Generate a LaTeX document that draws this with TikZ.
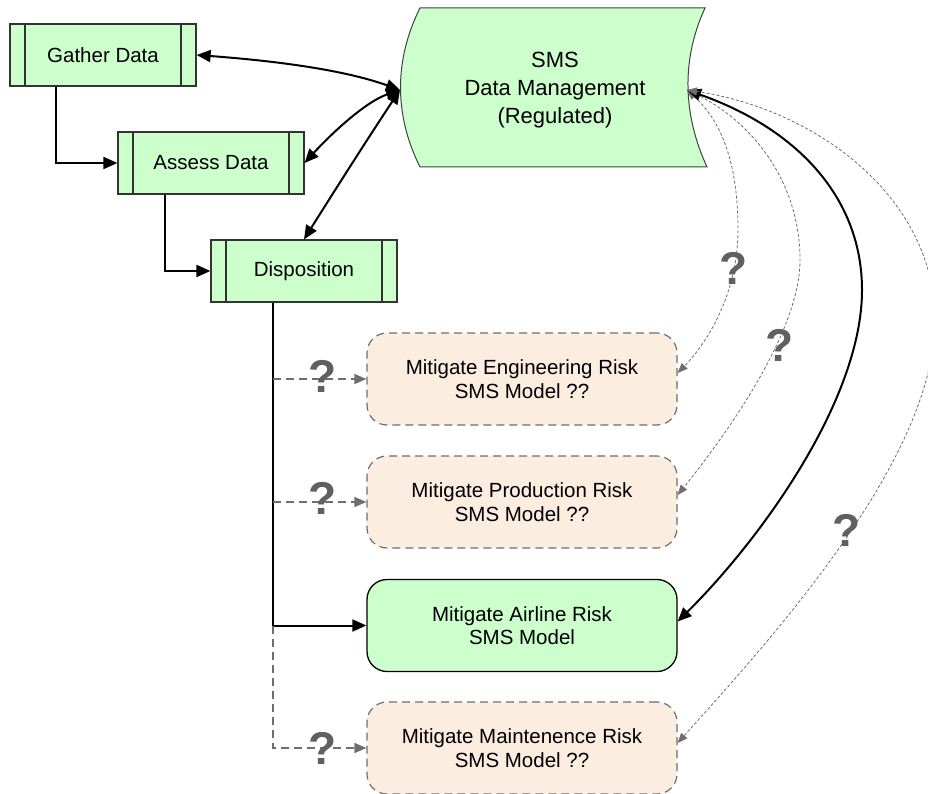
\documentclass[tikz,border=0pt]{standalone}
\usepackage{fontspec}
\setmainfont{Liberation Sans}
\usetikzlibrary{arrows.meta}
\definecolor{procgreen}{HTML}{CCFFCC}
\definecolor{peach}{HTML}{FCEDE1}
\definecolor{qgray}{HTML}{606060}
\definecolor{dgray}{HTML}{6E6E6E}

\tikzset{
  proc/.style={draw=black!80, line width=1.2pt, fill=procgreen,
    minimum width=186pt, minimum height=62pt, inner sep=0pt,
    font=\fontsize{20.5}{24}\selectfont,
    path picture={\draw[black!80, line width=1.2pt]
      ([xshift=15pt]path picture bounding box.north west) -- ([xshift=15pt]path picture bounding box.south west)
      ([xshift=-15pt]path picture bounding box.north east) -- ([xshift=-15pt]path picture bounding box.south east);}},
  model/.style={rounded corners=20pt, minimum width=310pt, minimum height=92pt,
    inner sep=0pt, align=center, font=\fontsize{20.5}{23.5}\selectfont},
  maybebox/.style={model, draw=dgray, fill=peach, line width=1.2pt, dash pattern=on 8pt off 5pt},
  surebox/.style={model, draw=black, fill=procgreen, line width=1.3pt},
  flow/.style={draw=black, line width=2pt, -{Triangle[length=14pt,width=12pt]}},
  bidir/.style={draw=black, line width=2pt, {Triangle[length=14pt,width=12pt]}-{Triangle[length=14pt,width=12pt]}},
  maybeflow/.style={draw=dgray, line width=1.5pt, dash pattern=on 8pt off 5pt, -{Triangle[length=12pt,width=10pt]}},
  maybelink/.style={draw=dgray, line width=0.8pt, dash pattern=on 3pt off 2pt,
    {Triangle[length=10pt,width=8pt]}-{Triangle[length=10pt,width=8pt]}},
  qmark/.style={text=qgray, font=\fontsize{46}{46}\bfseries\selectfont, inner sep=0pt}
}

\begin{document}
\begin{tikzpicture}[x=1pt, y=-1pt]
\useasboundingbox (0,0) rectangle (928,794);

% process steps
\node[proc] (gather) at (103,55) {Gather Data};
\node[proc] (assess) at (211,163) {Assess Data};
\node[proc] (disp)   at (304,271) {Disposition};

% stored data shape
\filldraw[fill=procgreen, draw=black!75, line width=1pt]
  (420,8) -- (705,8) .. controls (681,60) and (683,115) .. (707,167)
  -- (420,167) .. controls (394,115) and (394,60) .. cycle;
\node[align=center, font=\fontsize{22}{28}\selectfont] (sms) at (555,90) {SMS\\Data Management\\(Regulated)};
\coordinate (smsL) at (400,90);
\coordinate (smsR) at (687,90);

% mitigation models
\node[maybebox] (eng)   at (522,379) {Mitigate Engineering Risk\\SMS Model ??};
\node[maybebox] (prod)  at (522,502) {Mitigate Production Risk\\SMS Model ??};
\node[surebox]  (air)   at (522,625.5) {Mitigate Airline Risk\\SMS Model};
\node[maybebox] (maint) at (522,748) {Mitigate Maintenence Risk\\SMS Model ??};

% process flow
\draw[flow] (gather.south -| 56,0) |- (assess.west);
\draw[flow] (assess.south -| 165,0) |- (disp.west);

% links to data management
\draw[bidir] (gather.east) .. controls (290,62) and (350,72) .. (smsL);
\draw[bidir] (assess.east) .. controls (330,135) and (365,102) .. (smsL);
\draw[bidir] (disp.north) .. controls (335,190) and (370,135) .. (smsL);

% disposition trunk
\coordinate (trunk) at (273,625.5);
\draw[draw=black, line width=2pt] (disp.south -| trunk) -- (trunk);
\draw[flow] (trunk) -- (air.west);
\draw[maybeflow] (trunk) |- (maint.west);
\draw[maybeflow] (trunk |- eng.west) -- (eng.west);
\draw[maybeflow] (trunk |- prod.west) -- (prod.west);

% feedback to data management
\draw[maybelink] (smsR) .. controls (720,120) and (738,160) .. (738,230)
  .. controls (738,290) and (710,340) .. ([yshift=6pt]eng.east);
\draw[maybelink] (smsR) .. controls (750,120) and (800,180) .. (800,260)
  .. controls (800,330) and (730,430) .. ([yshift=7pt]prod.east);
\draw[bidir] (smsR) .. controls (800,130) and (862,200) .. (862,290)
  .. controls (862,400) and (760,540) .. ([yshift=4pt]air.east);
\draw[maybelink] (smsR) .. controls (820,110) and (935,200) .. (935,320)
  .. controls (935,460) and (770,640) .. ([yshift=5pt]maint.east);

% open questions
\node[qmark] (q1) at (323,376) {?};
\node[qmark] (q2) at (323,498) {?};
\node[qmark] (q3) at (323,748) {?};
\node[qmark] (q4) at (734,268) {?};
\node[qmark] (q5) at (780,345) {?};
\node[qmark] (q6) at (847,530) {?};
\end{tikzpicture}
\end{document}
